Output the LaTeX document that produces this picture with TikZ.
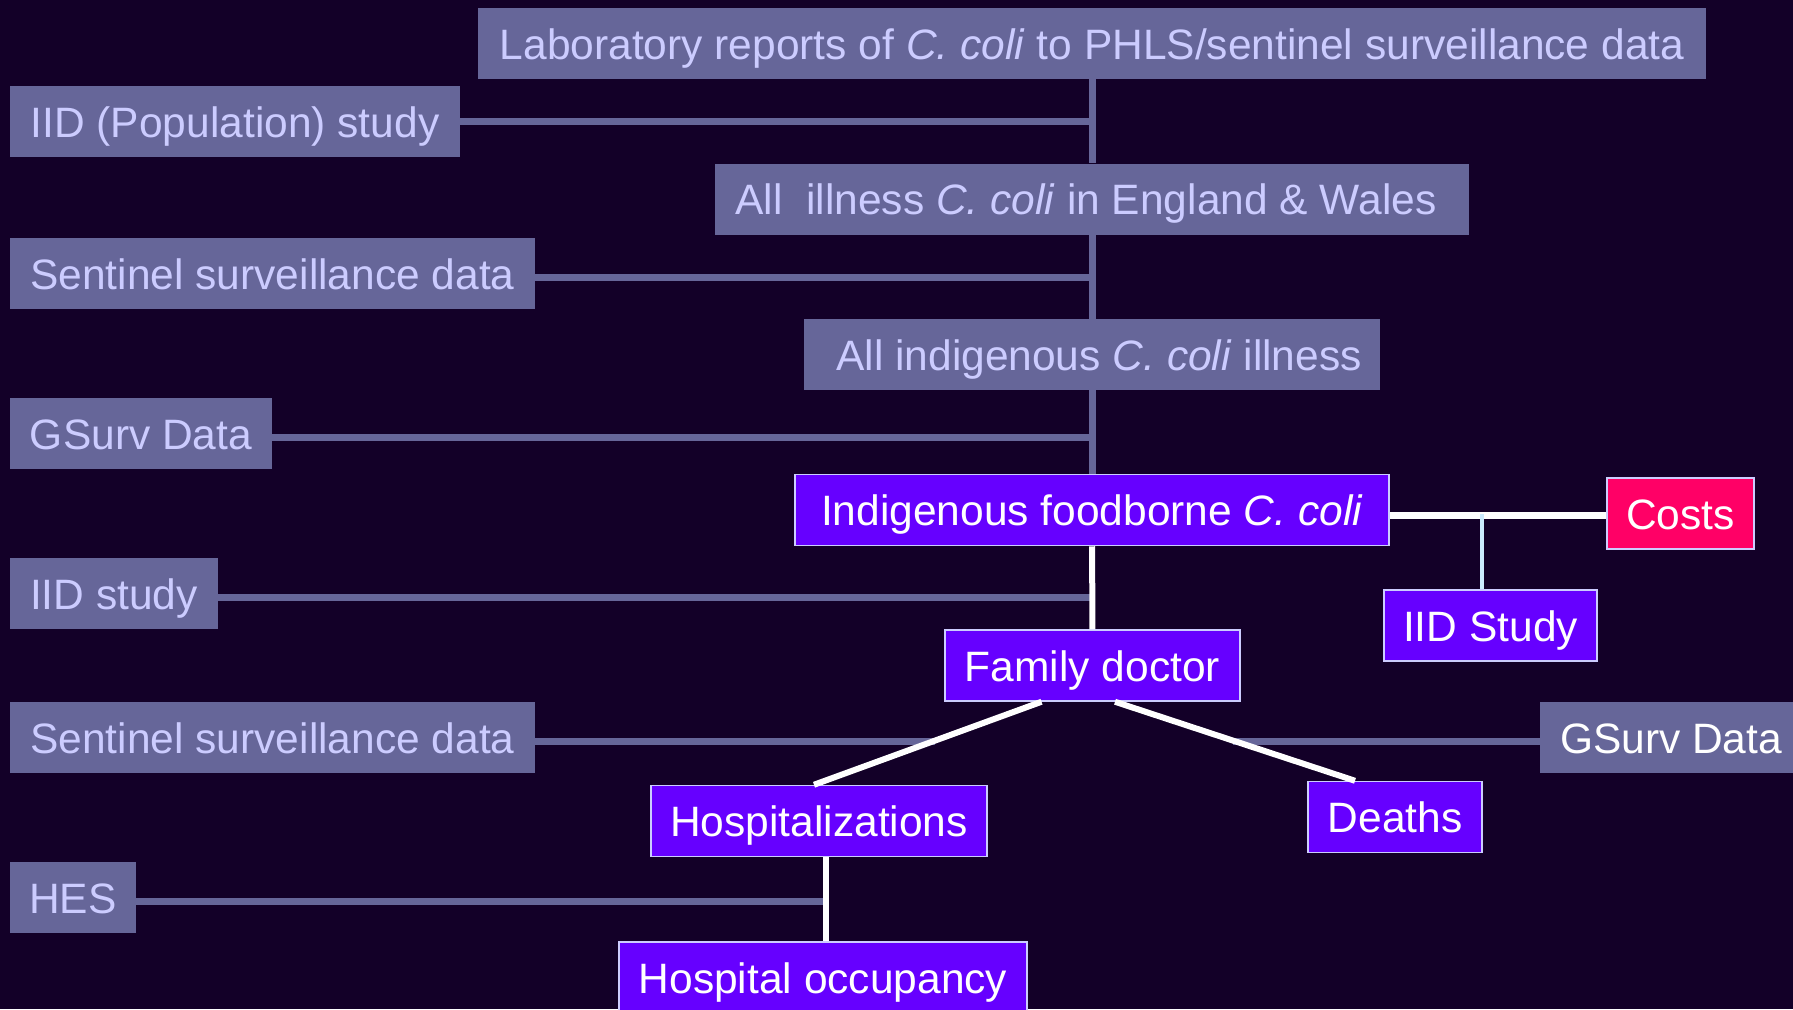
\documentclass[tikz,border=0pt]{standalone}
\usepackage{fontspec}
\setmainfont{Liberation Sans}
\usetikzlibrary{calc}

\definecolor{night}{HTML}{130028}
\definecolor{slate}{HTML}{666699}
\definecolor{lilac}{HTML}{CCCCFF}
\definecolor{violet}{HTML}{6600FF}
\definecolor{rose}{HTML}{FF0066}
\definecolor{ice}{HTML}{CCECFF}

\tikzset{
  box/.style={minimum height=71pt, inner sep=0pt, text height=31pt, text depth=0pt,
    font=\fontsize{42.5}{50}\selectfont},
}

\begin{document}
\begin{tikzpicture}[x=1pt,y=-1pt]

        \fill[night] (0,0) rectangle (1793,1009);
        \useasboundingbox (0,0) rectangle (1793,1009);

        % data sources
        \begin{scope}[every node/.style={box, fill=slate, text=lilac}]
          \node[minimum width=1228pt] (lab)    at (1092,43.5)    {Laboratory reports of \textit{C. coli} to PHLS/sentinel surveillance data};
          \node[minimum width=450pt]  (pop)    at (235,121.5)    {IID (Population) study};
          \node[minimum width=754pt]  (ill)    at (1092,199)     {All~ illness \textit{C. coli} in England \& Wales\hspace*{12pt}};
          \node[minimum width=525pt]  (sent1)  at (272.5,273.5)  {Sentinel surveillance data};
          \node[minimum width=576pt]  (indg)   at (1092,354.5)   {\hspace*{14pt}All indigenous \textit{C. coli} illness};
          \node[minimum width=262pt]  (gsurv1) at (141,433.5)    {GSurv Data};
          \node[minimum width=208pt]  (iid)    at (114,593.5)    {IID study};
          \node[minimum width=525pt]  (sent2)  at (272.5,737.5)  {Sentinel surveillance data};
          \node[minimum width=262pt, text=white] (gsurv2) at (1671,737.5) {GSurv Data};
          \node[minimum width=126pt]  (hes)    at (73,897.5)     {HES};
        \end{scope}

        % outcomes
        \begin{scope}[every node/.style={box, fill=violet, text=white, draw=lilac, line width=1.5pt}]
          \node[minimum width=594pt] (food)  at (1092,510)      {Indigenous foodborne \textit{C. coli}};
          \node[minimum width=295pt] (doc)   at (1092.5,665.5)  {Family doctor};
          \node[minimum width=213pt] (iidst) at (1490.5,625.5)  {IID Study};
          \node[minimum width=336pt] (hosp)  at (819,821)       {Hospitalizations};
          \node[minimum width=174pt] (death) at (1395,817)      {Deaths};
          \node[minimum width=408pt] (occ)   at (823,977.5)     {Hospital occupancy};
          \node[minimum width=147pt, fill=rose] (cost) at (1680.5,513.5) {Costs};
        \end{scope}

        \coordinate (dl) at ([xshift=-51pt]doc.south);
        \coordinate (dr) at ([xshift=22.5pt]doc.south);
        \coordinate (hx) at ($(dl)!0.47!([xshift=-5pt]hosp.north)$);
        \coordinate (dx) at ($(dr)!0.49!([xshift=-40pt]death.north)$);
        \coordinate (hv) at ([xshift=7pt]hosp.south);

        \begin{scope}[every edge/.style={draw=slate, line width=7pt}]
          \path (lab)  edge (ill);
          \path (ill)  edge (indg);
          \path (indg) edge (food);
          \path (pop.east)    edge (pop.east -| lab.south);
          \path ([yshift=-3.5pt]sent1.east)  edge ([yshift=-3.5pt]sent1.east -| ill.south);
          \path ([yshift=-3.5pt]gsurv1.east) edge ([yshift=-3.5pt]gsurv1.east -| indg.south);
          \path ([yshift=-3.5pt]iid.east)    edge ([yshift=-3.5pt]iid.east -| food.south);
          \path ([yshift=-3.5pt]sent2.east)  edge ([yshift=-3.5pt]sent2.east -| hx);
          \path ([yshift=-3.5pt]gsurv2.west) edge ([yshift=-3.5pt]gsurv2.west -| dx);
          \path ([yshift=-3.5pt]hes.east)    edge ([yshift=-3.5pt]hes.east -| hv);
        \end{scope}

        \begin{scope}[every edge/.style={draw=white, line width=6pt}]
          \path (food) edge (doc);
          \path (dl) edge ([xshift=-5pt]hosp.north);
          \path (dr) edge ([xshift=-40pt]death.north);
          \path (hv) edge (hv |- occ.north);
          \path ([yshift=-2pt]cost.west -| food.east) edge[line width=7pt] ([yshift=-2pt]cost.west);
        \end{scope}

        \path ([xshift=-8.5pt]iidst.north) edge[draw=ice, line width=4pt] ([xshift=-8.5pt]iidst.north |- cost.west);

      \end{tikzpicture}
\end{document}
